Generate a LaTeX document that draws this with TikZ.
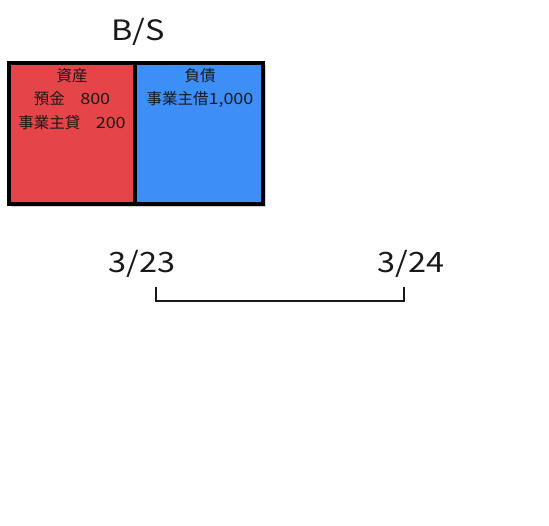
\documentclass[tikz,border=0pt]{standalone}
\usepackage{fontspec}
\setmainfont{Noto Sans CJK JP}
\newfontfamily\lat[FakeStretch=1.16]{Noto Sans CJK JP}
\definecolor{assetred}{RGB}{229,69,73}
\definecolor{liabblue}{RGB}{62,142,247}
\definecolor{ink}{RGB}{25,25,25}
\begin{document}
\begin{tikzpicture}[x=1pt,y=-1pt,
  bsbox/.style={draw=black, line width=4pt, inner sep=0pt, outer sep=0pt, minimum height=141pt},
  small/.style={font=\fontsize{15.5}{18}\selectfont, text=ink, inner sep=0pt},
  big/.style={font=\fontsize{28}{32}\selectfont\lat, text=ink, inner sep=0pt},
  bracket/.style={draw=ink, line width=1.2pt}]
\useasboundingbox (0,0) rectangle (549,526);
\fill[black!18] (11,65) rectangle (266,207);
\node[bsbox, fill=assetred, minimum width=126pt] (asset) at (72,133.5) {};
\node[bsbox, fill=liabblue, minimum width=128pt] (liab) at (199,133.5) {};
\node[big] (bs) at (138,32) {B/S};
\node[small] (a0) at (72,76) {資産};
\node[small] (a1) at (72,99) {預金　{\lat 800}};
\node[small] (a2) at (72,123) {事業主貸　{\lat 200}};
\node[small] (l0) at (200,76) {負債};
\node[small] (l1) at (200,99) {事業主借{\lat 1,000}};
\node[big] (d1) at (142,264) {3/23};
\node[big] (d2) at (411,264) {3/24};
\coordinate (lt) at (156,287);
\coordinate (lb) at (156,301);
\coordinate (rb) at (404,301);
\coordinate (rt) at (404,287);
\draw[bracket] (lt) -- (lb) -- (rb) -- (rt);
\end{tikzpicture}
\end{document}
